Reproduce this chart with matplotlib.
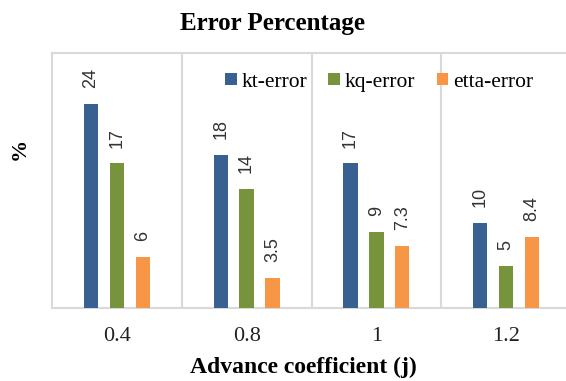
import numpy as np
import matplotlib
matplotlib.use("Agg")
import matplotlib.pyplot as plt

# Error percentages per advance coefficient
categories = ["0.4", "0.8", "1", "1.2"]
kt_error = [24, 18, 17, 10]
kq_error = [17, 14, 9, 5]
etta_error = [6, 3.5, 7.3, 8.4]
series_names = ["kt-error", "kq-error", "etta-error"]
series_colors = ["#386192", "#77933C", "#F79646"]

serif = "Liberation Serif"
sans = "Liberation Sans"

fig = plt.figure(figsize=(5.66, 3.81), dpi=100)
ax = fig.add_axes([52 / 566, 73 / 381, 519 / 566, 255 / 381])

x = np.arange(len(categories))
width = 0.11
offsets = [-0.2, 0.0, 0.2]
for vals, name, color, off in zip([kt_error, kq_error, etta_error],
                                  series_names, series_colors, offsets):
    bars = ax.bar(x + off, vals, width, color=color, label=name, zorder=3)
    for b, v in zip(bars, vals):
        ax.annotate(f"{v:g}", (b.get_x() + b.get_width() / 2, v),
                    xytext=(0, 11.5), textcoords="offset points",
                    rotation=90, ha="center", va="bottom",
                    fontsize=13, family=sans, color="#333333")

ax.set_xlim(-0.5, 3.5)
ax.set_ylim(0, 30)
ax.set_yticks([])
ax.set_xticks(x)
ax.set_xticklabels(categories, family=serif, fontsize=16, color="#222222")
ax.set_xticks(np.arange(0.5, 3.5, 1), minor=True)
ax.tick_params(axis="x", which="both", length=0, pad=14)
ax.grid(axis="x", which="minor", color="#D9D9D9", linewidth=1.5, zorder=0)

for side in ["left", "top", "bottom"]:
    ax.spines[side].set_color("#D9D9D9")
    ax.spines[side].set_linewidth(1.5)
ax.spines["right"].set_visible(False)

ax.legend(loc="center", bbox_to_anchor=(0.63, 0.886), ncol=3, frameon=False,
          borderpad=0, handlelength=0.55, handleheight=0.5,
          handletextpad=0.2, columnspacing=1.0,
          prop={"family": serif, "size": 15.5})

fig.text(273 / 566, 1 - 30 / 381, "Error Percentage", ha="center",
         va="baseline", family=serif, fontsize=18, fontweight="bold")
fig.text(303 / 566, 1 - 373 / 381, "Advance coefficient (j)", ha="center",
         va="baseline", family=serif, fontsize=17, fontweight="bold")
fig.text(20 / 566, 1 - 149 / 381, "%", ha="center", va="center",
         rotation=90, family=serif, fontsize=16, fontweight="bold")

fig.savefig("out.png", dpi=100)
